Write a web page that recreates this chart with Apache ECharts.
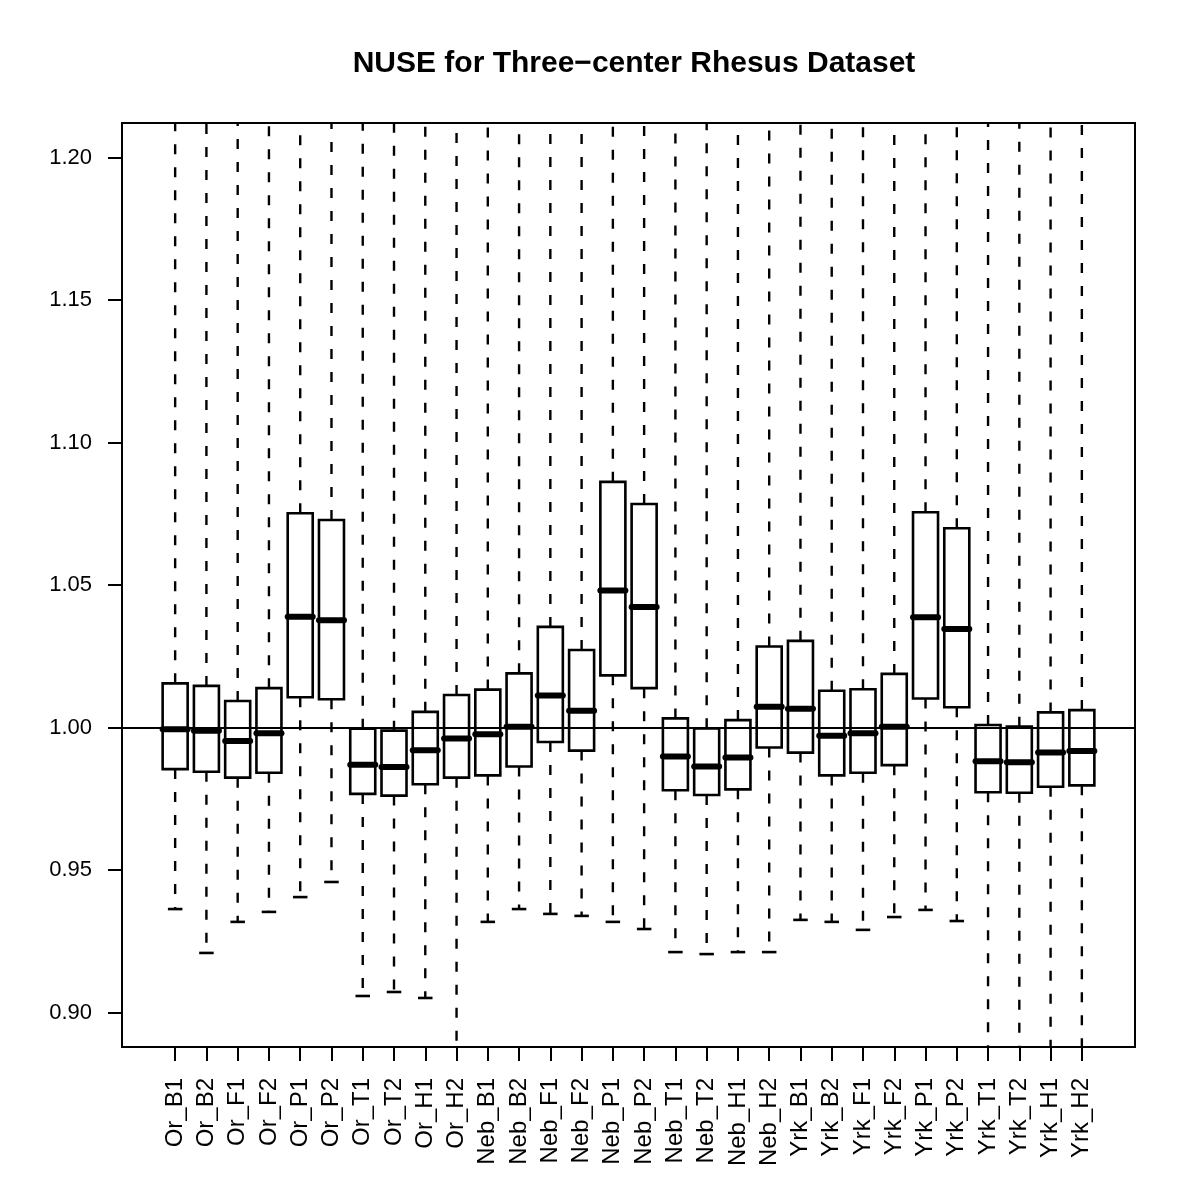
<!DOCTYPE html>
<html>
<head>
<meta charset="utf-8">
<script src="https://cdn.jsdelivr.net/npm/echarts@6/dist/echarts.min.js"></script>
<style>html,body{margin:0;padding:0;background:#fff;}#c{width:1200px;height:1200px;}</style>
</head>
<body>
<div id="c"></div>
<script>
// ---- data ----
var categories = ["Or_B1","Or_B2","Or_F1","Or_F2","Or_P1","Or_P2","Or_T1","Or_T2","Or_H1","Or_H2",
  "Neb_B1","Neb_B2","Neb_F1","Neb_F2","Neb_P1","Neb_P2","Neb_T1","Neb_T2","Neb_H1","Neb_H2",
  "Yrk_B1","Yrk_B2","Yrk_F1","Yrk_F2","Yrk_P1","Yrk_P2","Yrk_T1","Yrk_T2","Yrk_H1","Yrk_H2"];
var lowerWhisker = [0.9363,0.9209,0.9318,0.9353,0.9405,0.9458,0.9058,0.9072,0.9051,0.870,
  0.9318,0.9363,0.9346,0.9339,0.9318,0.9293,0.9212,0.9205,0.9212,0.9212,
  0.9325,0.9318,0.9290,0.9335,0.9360,0.9321,0.870,0.870,0.870,0.870];
var q1 = [0.9854,0.9845,0.9824,0.9841,1.0106,1.0099,0.9767,0.9761,0.9801,0.9824,
  0.9832,0.9863,0.9949,0.9919,1.0183,1.0138,0.9780,0.9763,0.9783,0.9930,
  0.9912,0.9832,0.9841,0.9868,1.0102,1.0071,0.9773,0.9771,0.9792,0.9797];
var median = [0.9994,0.9989,0.9953,0.9980,1.0389,1.0376,0.9869,0.9861,0.9920,0.9961,
  0.9976,1.0003,1.0112,1.0059,1.0481,1.0423,0.9898,0.9863,0.9895,1.0073,
  1.0066,0.9971,0.9980,1.0003,1.0387,1.0346,0.9882,0.9878,0.9912,0.9918];
var q3 = [1.0155,1.0146,1.0093,1.0138,1.0752,1.0728,0.9996,0.9989,1.0055,1.0114,
  1.0133,1.0190,1.0353,1.0272,1.0862,1.0784,1.0032,0.9997,1.0026,1.0284,
  1.0304,1.0129,1.0134,1.0188,1.0755,1.0699,1.0009,1.0003,1.0053,1.0061];
var upperWhisker = [1.25,1.25,1.25,1.25,1.25,1.25,1.25,1.25,1.25,1.25,
  1.25,1.25,1.25,1.25,1.25,1.25,1.25,1.25,1.25,1.25,
  1.25,1.25,1.25,1.25,1.25,1.25,1.25,1.25,1.25,1.25];
var yTicks = [0.90,0.95,1.00,1.05,1.10,1.15,1.20];
var titleText = "NUSE for Three\u2212center Rhesus Dataset";

var positions = categories.map(function(_, i){ return i + 1; });
var boxData = categories.map(function(_, i){
  return [i + 1, lowerWhisker[i], q1[i], median[i], q3[i], upperWhisker[i]];
});

var FONT = "'Liberation Sans', Arial, Helvetica, sans-serif";
var chart = echarts.init(document.getElementById('c'), null, {renderer: 'canvas'});

function renderBox(params, api) {
  var x = api.value(0);
  var pLw = api.coord([x, api.value(1)]);
  var pQ1 = api.coord([x, api.value(2)]);
  var pMed = api.coord([x, api.value(3)]);
  var pQ3 = api.coord([x, api.value(4)]);
  var pUw = api.coord([x, api.value(5)]);
  var half = api.size([0.8, 0])[0] / 2;
  var capHalf = half / 2 + 1;
  var cx = pMed[0];
  var black = '#000';
  var dashStyle = {stroke: black, lineWidth: 2.4, lineDash: [10, 13], fill: null};
  var solid = {stroke: black, lineWidth: 2.6, fill: null};
  var cs = params.coordSys;
  return {
    type: 'group',
    clipPath: {type: 'rect', shape: {x: cs.x, y: cs.y, width: cs.width, height: cs.height}},
    children: [
      {type: 'line', shape: {x1: cx, y1: pQ3[1], x2: cx, y2: pUw[1]}, style: dashStyle},
      {type: 'line', shape: {x1: cx, y1: pQ1[1], x2: cx, y2: pLw[1]}, style: dashStyle},
      {type: 'line', shape: {x1: cx - capHalf, y1: pLw[1], x2: cx + capHalf, y2: pLw[1]}, style: solid},
      {type: 'line', shape: {x1: cx - capHalf, y1: pUw[1], x2: cx + capHalf, y2: pUw[1]}, style: solid},
      {type: 'rect', shape: {x: cx - half, y: pQ3[1], width: half * 2, height: pQ1[1] - pQ3[1]},
        style: {stroke: black, lineWidth: 2.6, fill: 'rgba(255,255,255,0)'}},
      {type: 'line', shape: {x1: cx - half, y1: pMed[1], x2: cx + half, y2: pMed[1]},
        style: {stroke: black, lineWidth: 6, lineCap: 'round'}}
    ]
  };
}

var option = {
  animation: false,
  backgroundColor: '#fff',
  title: {
    text: titleText,
    left: 629, top: 44, textAlign: 'center',
    textStyle: {fontFamily: FONT, fontSize: 30, fontWeight: 'bold', color: '#000'}
  },
  grid: {left: 122, top: 123, right: 65, bottom: 153, show: true, borderColor: '#000', borderWidth: 2, backgroundColor: 'transparent'},
  xAxis: {
    type: 'value', min: -0.7, max: 31.7,
    splitLine: {show: false},
    axisLine: {show: true, onZero: false, lineStyle: {color: '#000', width: 2}},
    axisTick: {show: true, customValues: positions, length: 14, lineStyle: {color: '#000', width: 2}},
    axisLabel: {
      show: true, customValues: positions, rotate: 90, margin: 31,
      fontFamily: FONT, fontSize: 24, color: '#000',
      formatter: function(v){ return categories[Math.round(v) - 1] || ''; }
    }
  },
  yAxis: {
    type: 'value', min: 0.8879, max: 1.2121,
    splitLine: {show: false},
    axisLine: {show: true, onZero: false, lineStyle: {color: '#000', width: 2}},
    axisTick: {show: true, customValues: yTicks, length: 14, lineStyle: {color: '#000', width: 2}},
    axisLabel: {
      show: true, customValues: yTicks, margin: 30,
      fontFamily: FONT, fontSize: 22, color: '#000',
      formatter: function(v){ return Number(v).toFixed(2); }
    }
  },
  series: [{
    type: 'custom',
    renderItem: renderBox,
    data: boxData,
    encode: {x: 0, y: [1, 2, 3, 4, 5]},
    clip: true,
    silent: true,
    markLine: {
      silent: true,
      symbol: ['none', 'none'],
      label: {show: false},
      lineStyle: {color: '#000', type: 'solid', width: 2},
      data: [{yAxis: 1.0}]
    }
  }]
};
chart.setOption(option);
</script>
</body>
</html>
